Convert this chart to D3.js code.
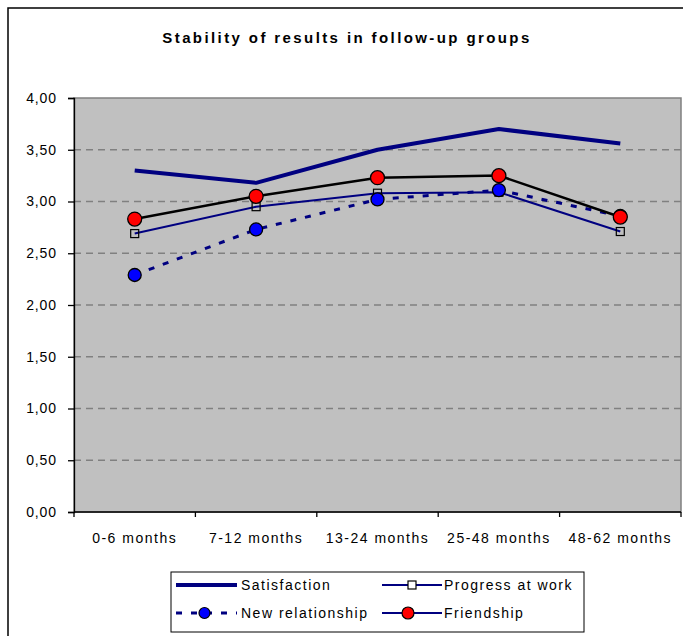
<!DOCTYPE html>
<html>
<head>
<meta charset="utf-8">
<script src="https://cdn.jsdelivr.net/npm/d3@7"></script>
<style>
  html, body { margin: 0; padding: 0; background: #fff; }
  svg { display: block; font-family: "Liberation Sans", Arial, sans-serif; }
</style>
</head>
<body>
<svg id="chart" width="683" height="636"></svg>
<script>
// Follow-up groups and the mean score of each outcome per group
const categories = ["0-6 months", "7-12 months", "13-24 months", "25-48 months", "48-62 months"];
const satisfaction = [3.30, 3.18, 3.50, 3.70, 3.56];
const progressAtWork = [2.69, 2.95, 3.08, 3.09, 2.71];
const newRelationship = [2.29, 2.73, 3.02, 3.11, 2.86];
const friendship = [2.83, 3.05, 3.23, 3.25, 2.85];
const yTicks = [0, 0.5, 1, 1.5, 2, 2.5, 3, 3.5, 4];
const seriesNames = ["Satisfaction", "Progress at work", "New relationship", "Friendship"];

const svg = d3.select("#chart");
const plot = { left: 74, right: 681, top: 98, bottom: 512 };

const x = d3.scaleBand().domain(categories).range([plot.left, plot.right]);
const y = d3.scaleLinear().domain([0, 4]).range([plot.bottom, plot.top]);
const cx = c => x(c) + x.bandwidth() / 2;
const fmt = v => d3.format(".2f")(v).replace(".", ",");

// outer frame
svg.append("rect")
  .attr("x", 8).attr("y", 8).attr("width", 700).attr("height", 700)
  .attr("fill", "#fff").attr("stroke", "#000").attr("stroke-width", 1.5);

// title
svg.append("text")
  .attr("x", 347).attr("y", 43)
  .attr("text-anchor", "middle")
  .attr("font-size", 15).attr("font-weight", "bold")
  .attr("letter-spacing", 2.4)
  .text("Stability of results in follow-up groups");

// plot background
svg.append("rect")
  .attr("x", plot.left).attr("y", plot.top)
  .attr("width", plot.right - plot.left).attr("height", plot.bottom - plot.top)
  .attr("fill", "#c0c0c0").attr("stroke", "#808080").attr("stroke-width", 1.5);

// dashed gridlines
svg.append("g").selectAll("line")
  .data(yTicks.filter(t => t > 0 && t < 4))
  .join("line")
  .attr("x1", plot.left).attr("x2", plot.right)
  .attr("y1", d => y(d)).attr("y2", d => y(d))
  .attr("stroke", "#808080").attr("stroke-width", 1.5)
  .attr("stroke-dasharray", "7,5");

// y axis
const yAxis = svg.append("g")
  .attr("transform", `translate(${plot.left},0)`)
  .call(d3.axisLeft(y).tickValues(yTicks).tickFormat(fmt).tickSize(6).tickPadding(11));
yAxis.select(".domain").attr("stroke", "#000").attr("stroke-width", 1.3);
yAxis.selectAll(".tick line").attr("stroke", "#000").attr("stroke-width", 1.3);
yAxis.selectAll("text")
  .attr("font-family", "Liberation Sans, Arial, sans-serif")
  .attr("font-size", 14).attr("fill", "#000").attr("letter-spacing", 0.9);

// x axis with ticks on category boundaries
const xAxis = svg.append("g")
  .attr("transform", `translate(0,${plot.bottom})`);
xAxis.append("line")
  .attr("x1", plot.left).attr("x2", plot.right)
  .attr("stroke", "#000").attr("stroke-width", 1.3);
const boundaries = categories.map(c => x(c)).concat([x(categories[categories.length - 1]) + x.bandwidth()]);
xAxis.selectAll("line.tk").data(boundaries).join("line")
  .attr("class", "tk")
  .attr("x1", d => d).attr("x2", d => d)
  .attr("y1", 0).attr("y2", 5)
  .attr("stroke", "#000").attr("stroke-width", 1.3);
xAxis.selectAll("text").data(categories).join("text")
  .attr("x", d => cx(d)).attr("y", 31)
  .attr("text-anchor", "middle")
  .attr("font-size", 14).attr("letter-spacing", 1.5)
  .text(d => d);

const line = d3.line().x((d, i) => cx(categories[i])).y(d => y(d));

// Satisfaction
svg.append("path").datum(satisfaction)
  .attr("d", line).attr("fill", "none")
  .attr("stroke", "#000080").attr("stroke-width", 4).attr("stroke-linejoin", "round");

// Progress at work
svg.append("path").datum(progressAtWork)
  .attr("d", line).attr("fill", "none")
  .attr("stroke", "#000080").attr("stroke-width", 2);
svg.append("g").selectAll("rect").data(progressAtWork).join("rect")
  .attr("x", (d, i) => cx(categories[i]) - 4).attr("y", d => y(d) - 4)
  .attr("width", 8).attr("height", 8)
  .attr("fill", "none").attr("stroke", "#000").attr("stroke-width", 1.2);

// New relationship
svg.append("path").datum(newRelationship)
  .attr("d", line).attr("fill", "none")
  .attr("stroke", "#000080").attr("stroke-width", 3)
  .attr("stroke-dasharray", "6,9");
svg.append("g").selectAll("circle").data(newRelationship).join("circle")
  .attr("cx", (d, i) => cx(categories[i])).attr("cy", d => y(d)).attr("r", 6.5)
  .attr("fill", "#0000ff").attr("stroke", "#000").attr("stroke-width", 1.3);

// Friendship
svg.append("path").datum(friendship)
  .attr("d", line).attr("fill", "none")
  .attr("stroke", "#000").attr("stroke-width", 2.5);
svg.append("g").selectAll("circle").data(friendship).join("circle")
  .attr("cx", (d, i) => cx(categories[i])).attr("cy", d => y(d)).attr("r", 7)
  .attr("fill", "#ff0000").attr("stroke", "#000").attr("stroke-width", 1.3);

// legend
const lg = svg.append("g");
lg.append("rect")
  .attr("x", 171).attr("y", 572).attr("width", 413).attr("height", 60)
  .attr("fill", "#fff").attr("stroke", "#000").attr("stroke-width", 1);

const rows = [585, 613];
const cols = [{ x0: 176, x1: 237, tx: 241 }, { x0: 382, x1: 442, tx: 444 }];
const items = [
  { name: seriesNames[0], col: 0, row: 0 },
  { name: seriesNames[1], col: 1, row: 0 },
  { name: seriesNames[2], col: 0, row: 1 },
  { name: seriesNames[3], col: 1, row: 1 }
];
items.forEach((it, k) => {
  const c = cols[it.col], ry = rows[it.row];
  const mid = (c.x0 + c.x1) / 2;
  if (k === 0) {
    lg.append("line").attr("x1", c.x0).attr("x2", c.x1).attr("y1", ry).attr("y2", ry)
      .attr("stroke", "#000080").attr("stroke-width", 4);
  } else if (k === 1) {
    lg.append("line").attr("x1", c.x0).attr("x2", c.x1).attr("y1", ry).attr("y2", ry)
      .attr("stroke", "#000080").attr("stroke-width", 2);
    lg.append("rect").attr("x", mid - 4).attr("y", ry - 4).attr("width", 8).attr("height", 8)
      .attr("fill", "#fff").attr("stroke", "#000").attr("stroke-width", 1.2);
  } else if (k === 2) {
    lg.append("line").attr("x1", c.x0).attr("x2", c.x1).attr("y1", ry).attr("y2", ry)
      .attr("stroke", "#000080").attr("stroke-width", 3).attr("stroke-dasharray", "6,9");
    lg.append("circle").attr("cx", mid - 2).attr("cy", ry).attr("r", 5.5)
      .attr("fill", "#0000ff").attr("stroke", "#000").attr("stroke-width", 1.2);
  } else {
    lg.append("line").attr("x1", c.x0).attr("x2", c.x1).attr("y1", ry).attr("y2", ry)
      .attr("stroke", "#000080").attr("stroke-width", 2);
    lg.append("circle").attr("cx", mid - 4).attr("cy", ry).attr("r", 6)
      .attr("fill", "#ff0000").attr("stroke", "#000").attr("stroke-width", 1.2);
  }
  lg.append("text").attr("x", c.tx).attr("y", ry + 5)
    .attr("font-size", 14).attr("letter-spacing", 1.5)
    .text(it.name);
});
</script>
</body>
</html>
